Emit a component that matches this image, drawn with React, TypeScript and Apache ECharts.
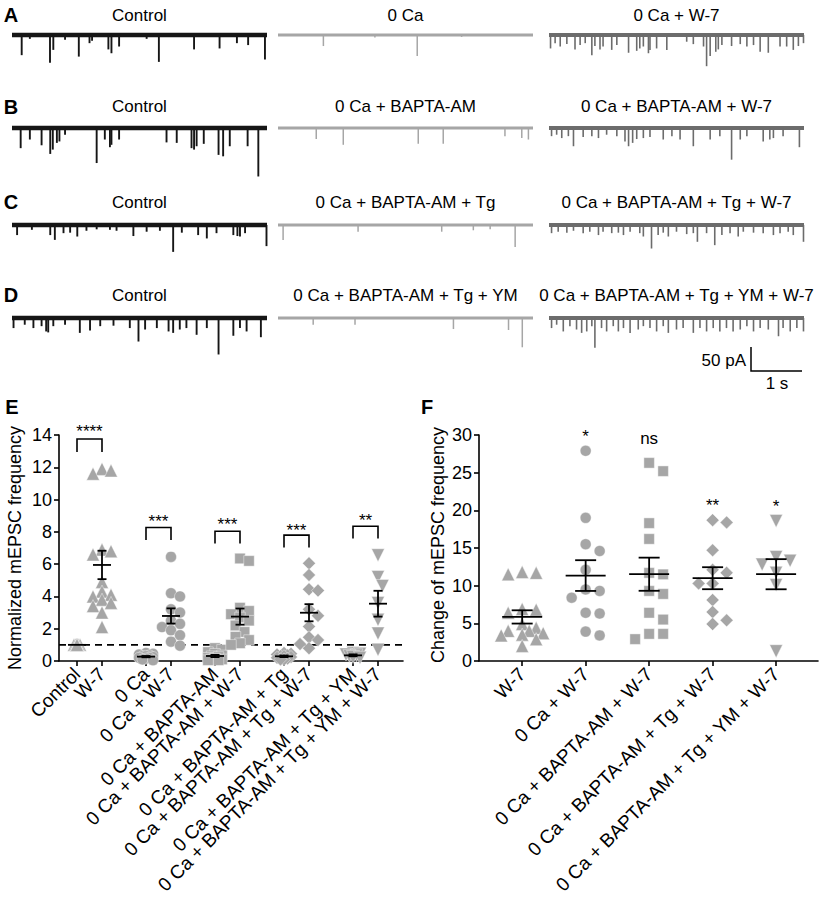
import React, { useEffect, useRef } from "react";
import * as echarts from "echarts";

const FONT = "'Liberation Sans', Arial, Helvetica, sans-serif";

// ---------------- Panels A–D : example traces ----------------
const traceRowLetters = ["A", "B", "C", "D"];
const traceTitles = [
  ["Control", "0 Ca", "0 Ca + W-7"],
  ["Control", "0 Ca + BAPTA-AM", "0 Ca + BAPTA-AM + W-7"],
  ["Control", "0 Ca + BAPTA-AM + Tg", "0 Ca + BAPTA-AM + Tg + W-7"],
  ["Control", "0 Ca + BAPTA-AM + Tg + YM", "0 Ca + BAPTA-AM + Tg + YM + W-7"],
];
// events: [time (s), amplitude (pA)]
const eventsA1 = [[0.19,42],[0.35,8],[0.745,58],[0.81,31],[1.04,10],[1.31,45],[1.52,17],[1.57,12],[1.89,30],[1.95,38],[2.1,24],[2.64,8],[2.88,56],[3.57,30],[4.07,28],[4.41,17],[4.63,21],[4.96,51]];
const eventsA2 = [[0.89,23],[1.9,5],[2.73,44],[3.6,4]];
const eventsA3 = [[0.03,28],[0.12,17],[0.22,24],[0.35,19],[0.51,30],[0.61,21],[0.71,17],[0.84,42],[0.9,23],[1.0,30],[1.06,24],[1.23,31],[1.33,21],[1.56,37],[1.72,33],[1.78,28],[1.85,24],[1.95,38],[1.98,31],[2.11,28],[2.31,31],[2.7,14],[2.83,19],[3.03,24],[3.09,65],[3.16,44],[3.27,35],[3.32,30],[3.39,21],[3.58,23],[3.75,19],[3.88,24],[4.01,21],[4.14,35],[4.3,37],[4.53,24],[4.66,24],[4.79,31],[4.89,23],[4.99,17]];
const eventsB1 = [[0.17,42],[0.35,24],[0.58,36],[0.75,54],[0.8,45],[0.88,31],[0.93,28],[1.04,14],[1.66,73],[1.82,24],[1.92,40],[1.95,35],[2.1,24],[3.03,30],[3.23,31],[3.52,42],[3.57,45],[3.62,38],[3.76,33],[4.05,56],[4.14,59],[4.27,38],[4.62,38],[4.83,101]];
const eventsB2 = [[0.75,23],[1.28,35],[2.75,33],[3.24,33],[4.45,17],[4.78,21],[4.91,24]];
const eventsB3 = [[0.05,17],[0.15,14],[0.25,21],[0.38,17],[0.48,38],[0.67,19],[0.84,17],[0.97,21],[1.13,14],[1.33,17],[1.49,28],[1.56,38],[1.64,31],[1.72,23],[1.85,21],[1.98,19],[2.24,24],[2.41,17],[2.57,24],[2.83,38],[3.16,24],[3.35,17],[3.58,66],[3.75,24],[3.88,17],[4.2,28],[4.33,24],[4.4,21],[4.59,17],[4.91,40]];
const eventsC1 = [[0.1,21],[0.39,10],[0.75,21],[0.84,31],[1.01,17],[1.14,16],[1.28,24],[1.46,12],[1.66,9],[1.92,10],[2.05,12],[2.38,23],[2.64,14],[2.9,12],[3.16,56],[3.33,16],[3.65,21],[3.82,28],[4.01,17],[4.34,21],[4.42,23],[4.47,24],[4.57,17],[4.99,44]];
const eventsC2 = [[0.1,31],[1.57,14],[3.21,14],[3.83,11],[4.16,9],[4.65,46]];
const eventsC3 = [[0.05,17],[0.18,14],[0.35,16],[0.48,12],[0.67,17],[0.8,14],[0.97,21],[1.06,14],[1.23,17],[1.36,16],[1.46,21],[1.59,14],[1.78,17],[1.85,24],[2.01,49],[2.14,21],[2.24,16],[2.34,24],[2.5,14],[2.7,19],[2.83,17],[2.91,35],[3.09,17],[3.25,42],[3.39,21],[3.55,17],[3.71,24],[3.81,14],[4.01,16],[4.2,17],[4.4,21],[4.53,17],[4.69,14],[4.79,21],[4.99,35]];
const eventsD1 = [[0.03,21],[0.25,14],[0.42,21],[0.58,17],[0.67,28],[0.71,30],[0.81,17],[1.04,14],[1.33,31],[1.53,26],[1.73,17],[1.99,16],[2.31,21],[2.48,49],[2.61,24],[2.84,21],[3.07,28],[3.16,31],[3.29,24],[3.42,21],[3.62,35],[3.82,21],[4.05,76],[4.34,37],[4.47,21],[4.6,28],[4.88,40]];
const eventsD2 = [[0.69,14],[1.51,14],[3.44,23],[4.52,25],[4.79,61]];
const eventsD3 = [[0.05,21],[0.15,14],[0.28,28],[0.41,17],[0.54,24],[0.64,31],[0.74,28],[0.84,17],[0.9,62],[1.03,21],[1.13,28],[1.26,17],[1.36,28],[1.46,21],[1.59,31],[1.75,24],[1.85,17],[1.98,21],[2.11,28],[2.24,17],[2.34,31],[2.5,24],[2.63,21],[2.83,31],[2.96,21],[3.09,28],[3.22,21],[3.35,28],[3.48,21],[3.61,28],[3.75,24],[3.88,17],[4.01,28],[4.14,21],[4.3,24],[4.5,38],[4.59,21],[4.73,28],[4.86,21],[4.99,28]];
const traceEvents = [
  [eventsA1, eventsA2, eventsA3],
  [eventsB1, eventsB2, eventsB3],
  [eventsC1, eventsC2, eventsC3],
  [eventsD1, eventsD2, eventsD3],
];
const traceColors = ["#161616", "#a6a6a6", "#6c6c6c"];

// ---------------- Panel E ----------------
const eCategories = [
  "Control", "W-7",
  "0 Ca", "0 Ca + W-7",
  "0 Ca + BAPTA-AM", "0 Ca + BAPTA-AM + W-7",
  "0 Ca + BAPTA-AM + Tg", "0 Ca + BAPTA-AM + Tg + W-7",
  "0 Ca + BAPTA-AM + Tg + YM", "0 Ca + BAPTA-AM + Tg + YM + W-7",
];
const eControl = [1, 1, 1, 1, 1, 1, 1, 1, 1, 1, 1, 1, 1, 1, 1];
const eW7 = [11.9, 11.6, 11.8, 6.9, 6.6, 6.8, 4.9, 4.3, 4.0, 4.1, 3.8, 3.4, 3.6, 3.0, 2.1];
const e0Ca = [0.5, 0.45, 0.4, 0.35, 0.3, 0.3, 0.25, 0.2, 0.2, 0.15, 0.1, 0.05];
const e0CaW7 = [6.45, 4.2, 4.0, 3.2, 3.0, 2.5, 2.3, 2.1, 1.9, 1.6, 1.2, 0.95];
const eBapta = [0.8, 0.7, 0.55, 0.45, 0.35, 0.3, 0.25, 0.2, 0.15, 0.1, 0.1, 0.05, 0.05];
const eBaptaW7 = [6.35, 6.2, 3.3, 3.1, 2.9, 2.7, 2.5, 2.2, 1.8, 1.5, 1.3, 1.1, 1.0];
const eTg = [0.5, 0.45, 0.4, 0.35, 0.3, 0.3, 0.25, 0.2, 0.15, 0.1, 0.1];
const eTgW7 = [6.05, 5.33, 4.44, 4.36, 3.2, 2.8, 2.13, 1.47, 1.3, 1.05, 0.79];
const eYm = [0.5, 0.45, 0.4, 0.35, 0.3, 0.25, 0.2];
const eYmW7 = [6.55, 5.2, 4.65, 3.6, 2.55, 1.7, 0.7];
const eValues = [eControl, eW7, e0Ca, e0CaW7, eBapta, eBaptaW7, eTg, eTgW7, eYm, eYmW7];
const eMeans = [1, 5.95, 0.27, 2.79, 0.31, 2.75, 0.29, 2.99, 0.35, 3.55];
const eSems = [0, 0.88, 0.04, 0.47, 0.07, 0.5, 0.05, 0.53, 0.06, 0.8];
const eBracketTop = [13.75, 8.27, 8.04, 7.8, 8.35];
const eBracketLeg = [12.95, 7.49, 7.28, 7.03, 7.59];
const eStarY = [14.47, 8.9, 8.73, 8.35, 8.93];
const eStars = ["****", "***", "***", "***", "**"];
const eThreshold = 1;

// ---------------- Panel F ----------------
const fCategories = [
  "W-7", "0 Ca + W-7", "0 Ca + BAPTA-AM + W-7",
  "0 Ca + BAPTA-AM + Tg + W-7", "0 Ca + BAPTA-AM + Tg + YM + W-7",
];
const fW7 = [11.8, 11.5, 11.7, 6.9, 6.4, 6.8, 4.9, 4.4, 4.0, 4.0, 3.7, 3.4, 3.5, 2.9, 2.0];
const f0CaW7 = [27.9, 19.0, 14.6, 15.5, 12.1, 9.5, 9.3, 8.4, 6.4, 6.3, 3.4, 3.9];
const fBaptaW7 = [25.2, 26.3, 18.3, 16.2, 11.7, 11.5, 8.9, 9.3, 6.4, 5.5, 3.6, 3.6, 2.9];
const fTgW7 = [18.4, 18.7, 14.7, 11.7, 12.1, 10.3, 10.3, 8.1, 6.5, 4.9, 5.4];
const fYmW7 = [18.6, 13.8, 13.3, 12.8, 11.7, 10.1, 1.3];
const fValues = [fW7, f0CaW7, fBaptaW7, fTgW7, fYmW7];
const fMeans = [5.85, 11.34, 11.52, 10.99, 11.52];
const fSems = [0.88, 2.04, 2.2, 1.46, 2.0];
const fSig = ["", "*", "ns", "**", "*"];
const fSigY = [0, 30.3, 29.4, 21.2, 21.1];

// ---------------- layout constants ----------------
const TRACE_COL_X = [12, 278, 549];
const TRACE_W = 255;
const TRACE_DUR = 5;
const TRACE_BASE_Y = [35, 128, 225, 318];
const TRACE_TITLE_Y = [15, 106, 202, 295];
const LETTER_Y = [15, 107, 202, 295];
const PX_PER_PA = 0.48;
const PA_MAX = 10;
const PA_MIN = -110;
const BASE_W = [4.5, 3, 4];
const SPIKE_W = [1.9, 1.5, 1.6];

const E_GRID = { left: 59, top: 435, width: 344, height: 226 };
const F_GRID = { left: 479, top: 435, width: 339, height: 226 };
const E_STEP = 2.76;
const E_X = [-0.72, 13.04];
const F_X = [-0.68, 4.66];
const E_Y = [0, 14, 2];
const F_Y = [0, 30, 5];
const MARK = "#a6a6a6";
const eSymbols = ["triangle", "triangle", "circle", "circle", "rect", "rect", "diamond", "diamond", "triangle", "triangle"];
const eRot = [0, 0, 0, 0, 0, 0, 0, 0, 180, 180];
const eMaxOff = [3, 9, 7, 9, 7, 9, 7, 9, 7, 9];
const eStepOff = [1.5, 4.5, 3.5, 4.5, 3.5, 4.5, 3.5, 4.5, 3.5, 4.5];
const fSymbols = ["triangle", "circle", "rect", "diamond", "triangle"];
const fRot = [0, 0, 0, 0, 180];
const symSize = (s: string) => (s === "triangle" ? 13 : s === "diamond" ? 13 : s === "rect" ? 10.5 : 11);

function swarm(values: number[], pxPerUnit: number, d: number, step: number, maxOff: number) {
  const placed: { x: number; y: number }[] = [];
  const order = values.map((_, i) => i).sort((a, b) => values[b] - values[a]);
  const offs = new Array(values.length).fill(0);
  const cands = [0];
  for (let k = step; k <= maxOff + 1e-6; k += step) cands.push(k, -k);
  for (const i of order) {
    const y = values[i] * pxPerUnit;
    let best = 0, bestScore = -1;
    for (const c of cands) {
      let minD = Infinity;
      for (const p of placed) {
        const dd = Math.hypot(p.x - c, p.y - y);
        if (dd < minD) minD = dd;
      }
      if (minD >= d) { best = c; break; }
      if (minD > bestScore) { bestScore = minD; best = c; }
    }
    offs[i] = best;
    placed.push({ x: best, y });
  }
  return offs;
}

const axisStyle = { color: "#000", width: 1.6 };
const txt = (text: string, size: number, extra: any = {}) => ({
  text, fill: "#000", font: `${extra.bold ? "bold " : ""}${size}px ${FONT}`,
  fontSize: size, fontFamily: FONT, fontWeight: extra.bold ? "bold" : "normal",
  textAlign: extra.align || "center", align: extra.align || "center",
  textVerticalAlign: "middle", verticalAlign: "middle",
});

function buildOption() {
  const grid: any[] = [], xAxis: any[] = [], yAxis: any[] = [], series: any[] = [], graphic: any[] = [];

  // traces
  traceEvents.forEach((row, r) => {
    row.forEach((events, c) => {
      const idx = r * 3 + c;
      grid.push({ left: TRACE_COL_X[c], top: TRACE_BASE_Y[r] - PA_MAX * PX_PER_PA, width: TRACE_W, height: (PA_MAX - PA_MIN) * PX_PER_PA });
      xAxis.push({ gridIndex: idx, type: "value", min: 0, max: TRACE_DUR, show: false });
      yAxis.push({ gridIndex: idx, type: "value", min: PA_MIN, max: PA_MAX, show: false });
      const color = traceColors[c];
      series.push({
        type: "line", xAxisIndex: idx, yAxisIndex: idx, data: [[0, 0], [TRACE_DUR, 0]],
        symbol: "none", silent: true, lineStyle: { color, width: BASE_W[c] }, z: 2,
      });
      series.push({
        type: "custom", xAxisIndex: idx, yAxisIndex: idx, data: events, silent: true, z: 3,
        renderItem: (_p: any, api: any) => {
          const t = api.value(0), a = api.value(1);
          const p0 = api.coord([t, 0]);
          const p1 = api.coord([t, -a]);
          return { type: "line", shape: { x1: p0[0], y1: p0[1], x2: p1[0], y2: p1[1] }, style: { stroke: color, lineWidth: SPIKE_W[c] } };
        },
      });
      graphic.push({ type: "text", x: TRACE_COL_X[c] + TRACE_W / 2, y: TRACE_TITLE_Y[r], style: txt(traceTitles[r][c], 17) });
    });
    graphic.push({ type: "text", x: 11, y: LETTER_Y[r], style: txt(traceRowLetters[r], 20, { bold: true }) });
  });

  // scale bar
  graphic.push({ type: "text", x: 746, y: 360, style: txt("50 pA", 17, { align: "right" }) });
  graphic.push({ type: "polyline", shape: { points: [[751, 347], [751, 371], [802, 371]] }, style: { stroke: "#000", lineWidth: 1.5, fill: null } });
  graphic.push({ type: "text", x: 777, y: 383, style: txt("1 s", 17) });

  const labelFor = (pos: number[], cats: string[]) => (v: number) => {
    const i = pos.findIndex((p) => Math.abs(p - v) < 1e-6);
    return i >= 0 ? cats[i] : "";
  };
  const catLabel = (pos: number[], cats: string[]) => ({
    show: true, customValues: pos, rotate: 45, margin: 10, color: "#000", fontSize: 19, fontFamily: FONT,
    showMinLabel: true, showMaxLabel: true, hideOverlap: false, formatter: labelFor(pos, cats),
  });

  // ---- E ----
  const eIdx = 12;
  const ePos = eCategories.map((_, i) => Math.floor(i / 2) * E_STEP + (i % 2));
  const ePosA = ePos.filter((_, i) => i % 2 === 0);
  const ePosB = ePos.filter((_, i) => i % 2 === 1);
  grid.push({ ...E_GRID });
  xAxis.push({
    gridIndex: eIdx, type: "value", position: "bottom", min: E_X[0], max: E_X[1],
    axisLine: { show: true, onZero: false, lineStyle: axisStyle },
    splitLine: { show: false },
    axisTick: { show: true, customValues: ePos, length: 5, lineStyle: axisStyle },
    axisLabel: catLabel(ePosA, eCategories.filter((_, i) => i % 2 === 0)),
  });
  yAxis.push({
    gridIndex: eIdx, type: "value", min: E_Y[0], max: E_Y[1], interval: E_Y[2],
    axisLine: { show: true, onZero: false, lineStyle: axisStyle },
    splitLine: { show: false },
    axisTick: { show: true, length: 5, lineStyle: axisStyle },
    axisLabel: { color: "#000", fontSize: 18, fontFamily: FONT, margin: 7 },
  });
  series.push({
    type: "line", xAxisIndex: eIdx, yAxisIndex: eIdx, data: [[E_X[0], eThreshold], [E_X[1], eThreshold]],
    symbol: "none", silent: true, lineStyle: { color: "#000", width: 1.6, type: [7, 5] }, z: 1,
  });
  const ePx = E_GRID.height / (E_Y[1] - E_Y[0]);
  eValues.forEach((vals, g) => {
    const offs = swarm(vals, ePx, 9, eStepOff[g], eMaxOff[g]);
    series.push({
      type: "scatter", xAxisIndex: eIdx, yAxisIndex: eIdx, symbol: eSymbols[g], symbolRotate: eRot[g],
      symbolSize: symSize(eSymbols[g]), silent: true, z: 3,
      itemStyle: { color: MARK, borderColor: "rgba(255,255,255,0.7)", borderWidth: 0.6, opacity: 1 },
      data: vals.map((v, k) => ({ value: [ePos[g], v], symbolOffset: [offs[k], 0] })),
    });
  });
  const meanRender = (hw: number, cw: number) => (_p: any, api: any) => {
    const x = api.value(0), m = api.value(1), s = api.value(2);
    const c = api.coord([x, m]), t = api.coord([x, m + s]), b = api.coord([x, m - s]);
    const st = { stroke: "#000", lineWidth: 1.8 };
    const ch: any[] = [{ type: "line", shape: { x1: c[0] - hw, y1: c[1], x2: c[0] + hw, y2: c[1] }, style: st }];
    if (s > 0) {
      ch.push({ type: "line", shape: { x1: c[0], y1: t[1], x2: c[0], y2: b[1] }, style: st });
      ch.push({ type: "line", shape: { x1: c[0] - cw, y1: t[1], x2: c[0] + cw, y2: t[1] }, style: st });
      ch.push({ type: "line", shape: { x1: c[0] - cw, y1: b[1], x2: c[0] + cw, y2: b[1] }, style: st });
    }
    return { type: "group", children: ch };
  };
  series.push({
    type: "custom", xAxisIndex: eIdx, yAxisIndex: eIdx, silent: true, z: 10,
    data: eMeans.map((m, i) => [ePos[i], m, eSems[i]]),
    renderItem: meanRender(9, 4.5),
  });
  series.push({
    type: "custom", xAxisIndex: eIdx, yAxisIndex: eIdx, silent: true, z: 10,
    data: eStars.map((_, k) => [ePos[2 * k], ePos[2 * k + 1], eBracketTop[k], eBracketLeg[k], eStarY[k]]),
    renderItem: (p: any, api: any) => {
      const x1 = api.value(0), x2 = api.value(1), top = api.value(2), leg = api.value(3), sy = api.value(4);
      const a = api.coord([x1, top]), b = api.coord([x2, top]);
      const al = api.coord([x1, leg]), bl = api.coord([x2, leg]);
      const s = api.coord([(x1 + x2) / 2, sy]);
      return {
        type: "group", children: [
          { type: "polyline", shape: { points: [al, a, b, bl] }, style: { stroke: "#000", lineWidth: 1.6, fill: null } },
          { type: "text", x: s[0], y: s[1] + 4, style: txt(eStars[p.dataIndex], 17) },
        ],
      };
    },
  });
  graphic.push({ type: "text", x: 15, y: 548, rotation: Math.PI / 2, style: txt("Normalized mEPSC frequency", 18) });
  graphic.push({ type: "text", x: 12, y: 407, style: txt("E", 20, { bold: true }) });

  // ---- F ----
  const fIdx = 13;
  const fPos = fCategories.map((_, i) => i);
  grid.push({ ...F_GRID });
  xAxis.push({
    gridIndex: fIdx, type: "value", min: F_X[0], max: F_X[1],
    axisLine: { show: true, onZero: false, lineStyle: axisStyle },
    splitLine: { show: false },
    axisTick: { show: true, customValues: fPos, length: 5, lineStyle: axisStyle },
    axisLabel: catLabel(fPos, fCategories),
  });
  yAxis.push({
    gridIndex: fIdx, type: "value", min: F_Y[0], max: F_Y[1], interval: F_Y[2],
    axisLine: { show: true, onZero: false, lineStyle: axisStyle },
    splitLine: { show: false },
    axisTick: { show: true, length: 5, lineStyle: axisStyle },
    axisLabel: { color: "#000", fontSize: 18, fontFamily: FONT, margin: 7 },
  });
  const fPx = F_GRID.height / (F_Y[1] - F_Y[0]);
  fValues.forEach((vals, g) => {
    const offs = swarm(vals, fPx, 11, 7, 21);
    series.push({
      type: "scatter", xAxisIndex: fIdx, yAxisIndex: fIdx, symbol: fSymbols[g], symbolRotate: fRot[g],
      symbolSize: symSize(fSymbols[g]), silent: true, z: 3,
      itemStyle: { color: MARK, borderColor: "rgba(255,255,255,0.7)", borderWidth: 0.6, opacity: 1 },
      data: vals.map((v, k) => ({ value: [fPos[g], v], symbolOffset: [offs[k], 0] })),
    });
  });
  series.push({
    type: "custom", xAxisIndex: fIdx, yAxisIndex: fIdx, silent: true, z: 10,
    data: fMeans.map((m, i) => [fPos[i], m, fSems[i]]),
    renderItem: meanRender(20, 10.5),
  });
  series.push({
    type: "custom", xAxisIndex: fIdx, yAxisIndex: fIdx, silent: true, z: 10,
    data: fSig.map((_, i) => [fPos[i], fSigY[i]]),
    renderItem: (p: any, api: any) => {
      const label = fSig[p.dataIndex];
      if (!label) return { type: "group", children: [] };
      const c = api.coord([api.value(0), api.value(1)]);
      const dy = label.indexOf("*") >= 0 ? 4 : -1;
      return { type: "text", x: c[0], y: c[1] + dy, style: txt(label, 17) };
    },
  });
  graphic.push({ type: "text", x: 438, y: 545, rotation: Math.PI / 2, style: txt("Change of mEPSC frequency", 18) });
  graphic.push({ type: "text", x: 427, y: 407, style: txt("F", 20, { bold: true }) });

  // second label axis for E (labels of the W-7 member of each pair)
  xAxis.push({
    gridIndex: eIdx, type: "value", position: "bottom", offset: 0, min: E_X[0], max: E_X[1],
    axisLine: { show: false, onZero: false },
    splitLine: { show: false },
    axisTick: { show: false },
    axisLabel: catLabel(ePosB, eCategories.filter((_, i) => i % 2 === 1)),
  });

  return { animation: false, backgroundColor: "#fff", grid, xAxis, yAxis, series, graphic };
}

export default function App() {
  const ref = useRef<HTMLDivElement>(null);
  useEffect(() => {
    const chart = echarts.init(ref.current as HTMLDivElement, null, { renderer: "svg", width: 820, height: 908 });
    chart.setOption(buildOption() as any);
    return () => chart.dispose();
  }, []);
  return <div ref={ref} style={{ position: "fixed", left: 0, top: 0, width: 820, height: 908, background: "#fff" }} />;
}
